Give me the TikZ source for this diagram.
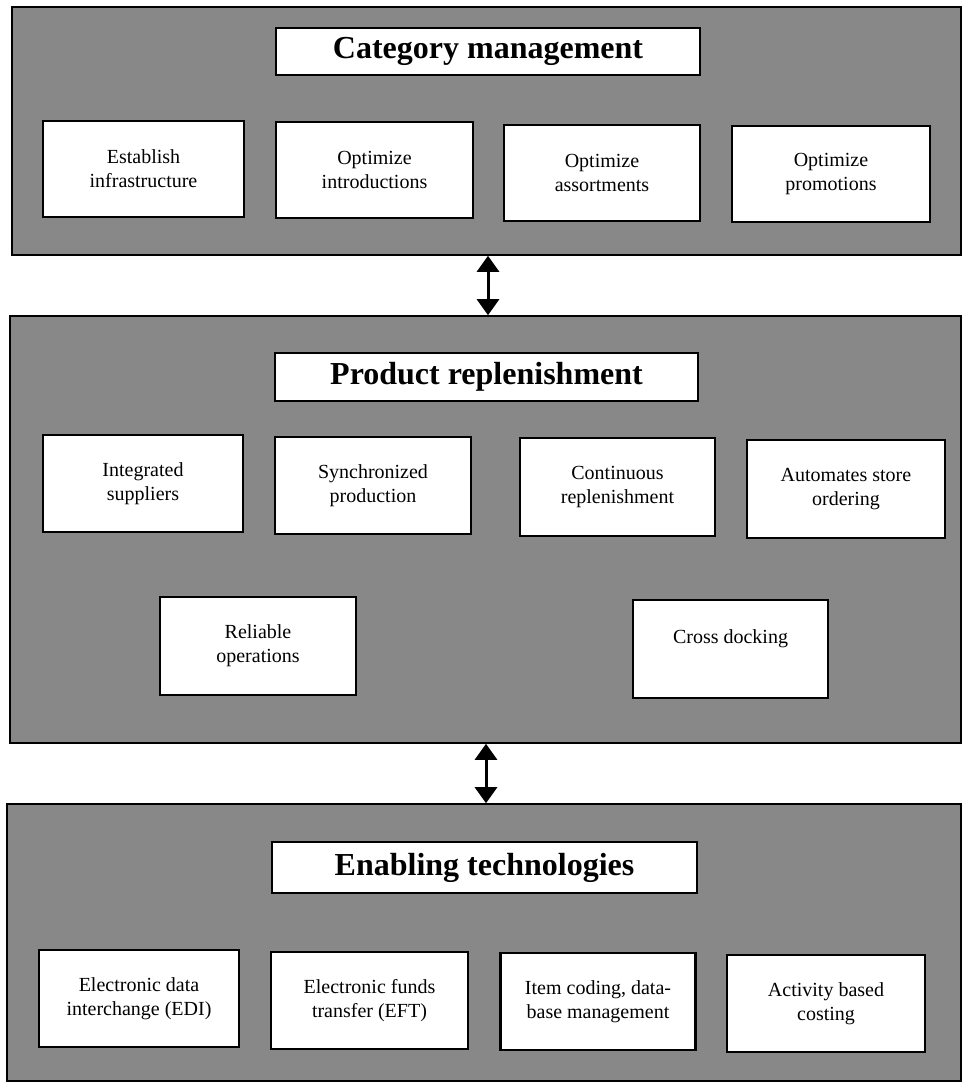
\documentclass[tikz,border=0pt]{standalone}
\usepackage{fontspec}
\setmainfont{Liberation Serif}
\usetikzlibrary{arrows.meta}
\definecolor{panelgray}{RGB}{136,136,136}
\tikzset{
  panel/.style={draw=black, line width=1.6pt, fill=panelgray, inner sep=0pt},
  headbox/.style={draw=black, line width=2.4pt, fill=white, inner sep=0pt,
    font=\bfseries\fontsize{32}{36}\selectfont},
  itembox/.style={draw=black, line width=2.2pt, fill=white, inner sep=0pt,
    align=center, font=\fontsize{20}{24}\selectfont},
  link/.style={line width=3pt, {Triangle[width=22pt,length=16pt]}-{Triangle[width=22pt,length=16pt]}}
}
\begin{document}
\begin{tikzpicture}[x=1pt,y=-1pt]
\useasboundingbox[fill=white] (0,0) rectangle (963,1090);

% three layers
\node[panel, minimum width=949pt, minimum height=248pt] (catpanel) at (486.5,131) {};
\node[panel, minimum width=951pt, minimum height=427pt] (reppanel) at (485.5,529.5) {};
\node[panel, minimum width=954pt, minimum height=277pt] (techpanel) at (484,942.5) {};

% category management
\node[headbox, minimum width=424pt, minimum height=47pt] (cathead) at (488,51.5) {Category management};
\node[itembox, minimum width=201pt, minimum height=96pt] (infra) at (143.5,169) {Establish\\infrastructure};
\node[itembox, minimum width=197pt, minimum height=96pt] (intro) at (374.5,170) {Optimize\\introductions};
\node[itembox, minimum width=196pt, minimum height=96pt] (assort) at (602,173) {Optimize\\assortments};
\node[itembox, minimum width=198pt, minimum height=96pt] (promo) at (831,174) {Optimize\\promotions};

% product replenishment
\node[headbox, minimum width=423pt, minimum height=48pt] (rephead) at (486.5,377) {Product replenishment};
\node[itembox, minimum width=200pt, minimum height=97pt] (suppl) at (143,483.5) {Integrated\\suppliers};
\node[itembox, minimum width=196pt, minimum height=97pt] (sync) at (373,485.5) {Synchronized\\production};
\node[itembox, minimum width=195pt, minimum height=98pt] (contrep) at (617.5,487) {Continuous\\replenishment};
\node[itembox, minimum width=198pt, minimum height=98pt] (storeord) at (846,489) {Automates store\\ordering};
\node[itembox, minimum width=196pt, minimum height=98pt] (reliable) at (258,646) {Reliable\\operations};
\node[itembox, minimum width=195pt, minimum height=98pt] (xdock) at (730.5,649) {Cross docking\\\mbox{}};

% enabling technologies
\node[headbox, minimum width=425pt, minimum height=51pt] (techhead) at (484.5,867.5) {Enabling technologies};
\node[itembox, minimum width=200pt, minimum height=97pt] (edi) at (139,998.5) {Electronic data\\interchange (EDI)};
\node[itembox, minimum width=197pt, minimum height=97pt] (eft) at (369.5,1000.5) {Electronic funds\\transfer (EFT)};
\node[itembox, minimum width=195pt, minimum height=97pt] (coding) at (598,1001.5) {Item coding, data-\\base management};
\node[itembox, minimum width=198pt, minimum height=97pt] (abc) at (826,1003.5) {Activity based\\costing};

% links between layers
\draw[link] (catpanel.south -| cathead.south) -- (reppanel.north -| cathead.south);
\draw[link] (reppanel.south -| techhead.south) ++(1.5,0) coordinate (lnk) -- (techpanel.north -| lnk);
\end{tikzpicture}
\end{document}
